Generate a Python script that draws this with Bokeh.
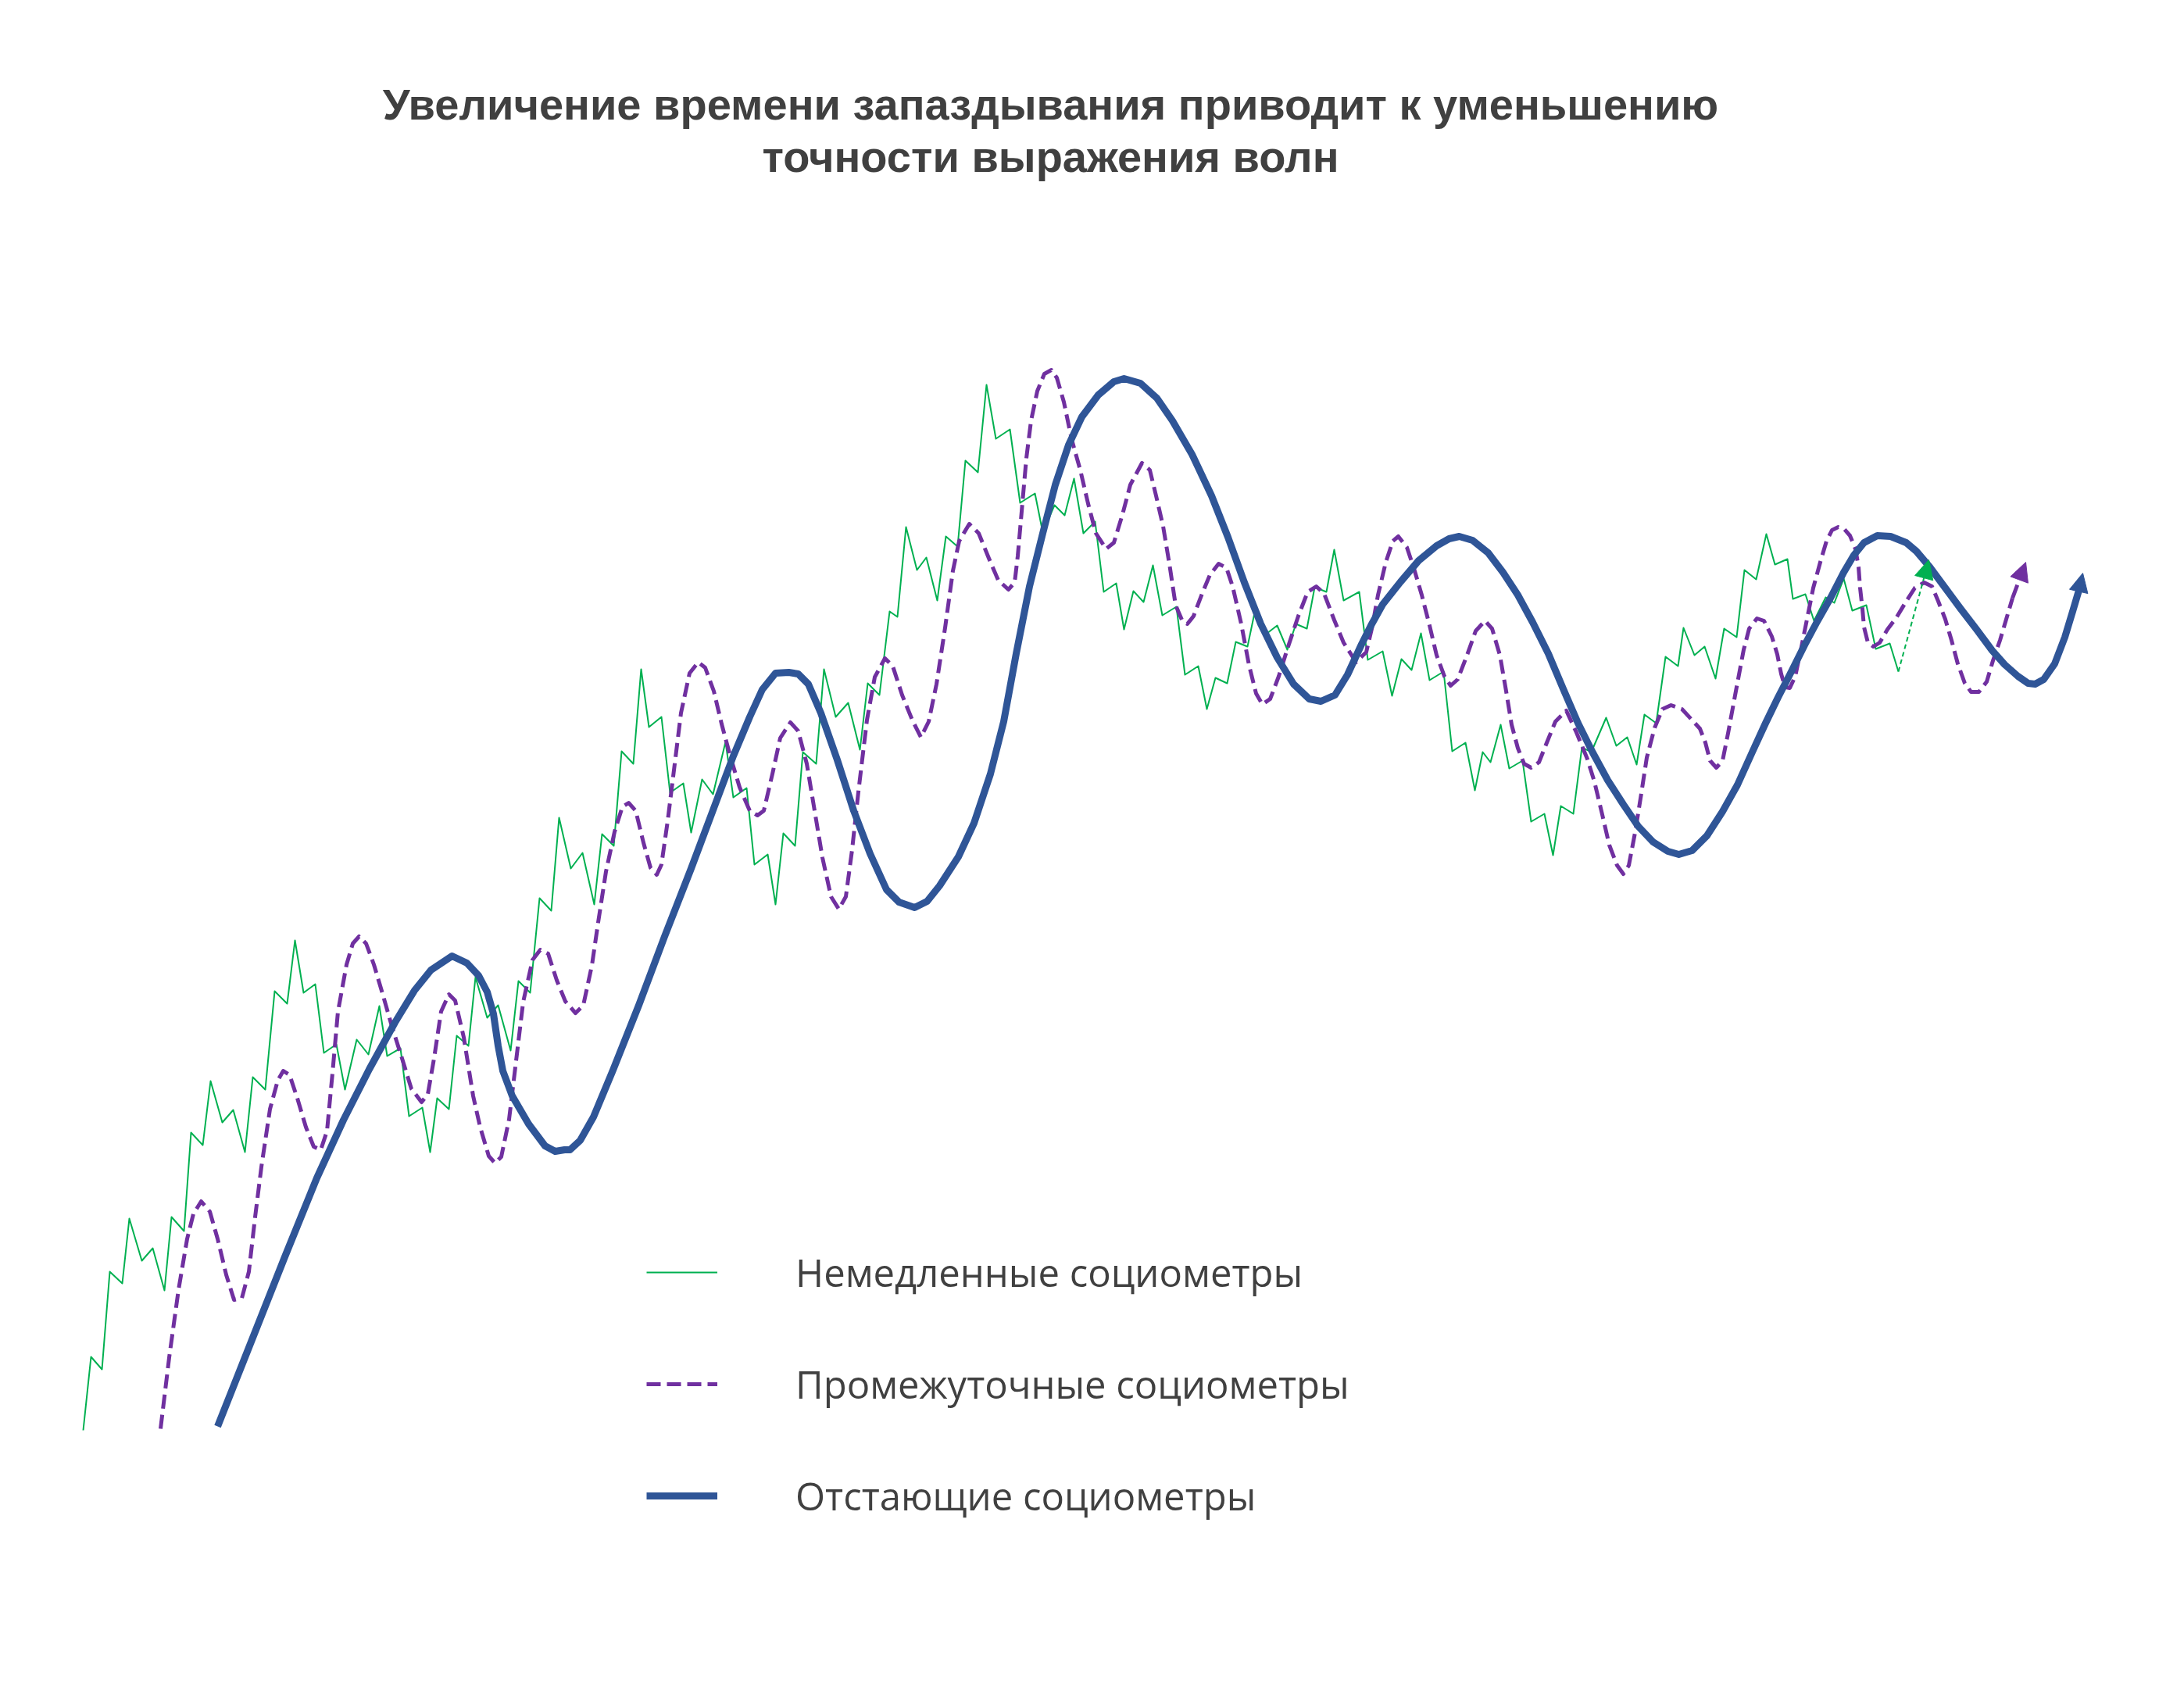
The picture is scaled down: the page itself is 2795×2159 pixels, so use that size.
"""
plot.py - three sociometer waves drawn with increasing lag (Bokeh, static page).
"""

from bokeh.embed import file_html
from bokeh.models import Arrow, Label, Legend, LegendItem, NormalHead, Range1d
from bokeh.plotting import figure
from bokeh.resources import INLINE

# ---------------------------------------------------------------------------
# Data (time, level)
# ---------------------------------------------------------------------------
TITLE_LINES = [
    "Увеличение времени запаздывания приводит к уменьшению",
    "точности выражения волн",
]
SERIES_NAMES = [
    "Немедленные социометры",
    "Промежуточные социометры",
    "Отстающие социометры",
]

# last pair of every series is the tip of its arrow
immediate = [
    (114, 1838), (124, 1744), (138, 1760), (148, 1635), (164, 1650), (173, 1567),
    (189, 1621), (203, 1605), (218, 1659), (227, 1565), (243, 1583), (252, 1457),
    (267, 1473), (277, 1391), (292, 1444), (306, 1428), (321, 1482), (331, 1386),
    (347, 1402), (359, 1276), (375, 1292), (385, 1211), (396, 1278), (411, 1267),
    (422, 1355), (438, 1344), (449, 1402), (464, 1338), (479, 1357), (493, 1295),
    (503, 1359), (520, 1349), (531, 1436), (548, 1425), (558, 1482), (567, 1413),
    (582, 1427), (592, 1333), (607, 1346), (616, 1258), (631, 1310), (645, 1294),
    (661, 1352), (671, 1263), (686, 1278), (698, 1157), (713, 1173), (723, 1054),
    (738, 1119), (753, 1099), (768, 1165), (778, 1075), (793, 1090), (803, 969),
    (818, 985), (828, 864), (838, 938), (854, 925), (865, 1022), (882, 1010),
    (892, 1073), (906, 1005), (920, 1024), (936, 957), (946, 1028), (963, 1016),
    (973, 1114), (990, 1101), (1000, 1165), (1010, 1074), (1025, 1090), (1035, 970),
    (1052, 985), (1062, 864), (1077, 925), (1093, 907), (1108, 967), (1118, 882),
    (1133, 897), (1146, 790), (1156, 797), (1167, 682), (1181, 737), (1193, 721),
    (1207, 776), (1218, 694), (1233, 707), (1243, 597), (1259, 612), (1270, 500),
    (1282, 569), (1300, 557), (1313, 651), (1332, 639), (1342, 689), (1357, 654),
    (1370, 667), (1382, 620), (1394, 690), (1409, 675), (1420, 765), (1436, 754),
    (1446, 813), (1458, 764), (1471, 778), (1483, 731), (1495, 795), (1513, 784),
    (1524, 871), (1541, 860), (1552, 915), (1563, 875), (1578, 882), (1589, 829),
    (1604, 835), (1613, 792), (1629, 818), (1642, 808), (1655, 839), (1666, 806),
    (1680, 812), (1690, 759), (1705, 765), (1715, 711), (1727, 776), (1747, 765),
    (1758, 852), (1777, 841), (1789, 898), (1801, 851), (1814, 865), (1826, 818),
    (1837, 878), (1855, 867), (1866, 969), (1883, 958), (1895, 1019), (1905, 970),
    (1915, 983), (1928, 935), (1939, 991), (1956, 981), (1967, 1059), (1984, 1049),
    (1995, 1102), (2005, 1039), (2021, 1049), (2032, 964), (2044, 970), (2063, 926),
    (2076, 962), (2090, 951), (2102, 986), (2112, 922), (2127, 933), (2139, 848),
    (2155, 860), (2162, 811), (2176, 846), (2189, 835), (2203, 876), (2214, 812),
    (2230, 823), (2240, 737), (2255, 749), (2268, 691), (2279, 730), (2295, 723),
    (2302, 774), (2318, 768), (2329, 802), (2344, 772), (2355, 779), (2367, 748),
    (2378, 789), (2396, 782), (2408, 838), (2426, 831), (2437, 867),
    (2476, 724),
]

intermediate = [
    (213, 1836), (224, 1745), (236, 1658), (247, 1593), (255, 1561), (265, 1545),
    (276, 1558), (286, 1593), (297, 1639), (307, 1671), (317, 1669), (326, 1635),
    (334, 1565), (342, 1501), (353, 1427), (363, 1390), (370, 1378), (378, 1383),
    (388, 1413), (399, 1450), (409, 1475), (418, 1479), (426, 1455), (433, 1381),
    (440, 1302), (451, 1242), (459, 1215), (467, 1206), (476, 1215), (486, 1242),
    (497, 1279), (509, 1321), (522, 1362), (534, 1401), (547, 1418), (555, 1408),
    (563, 1362), (572, 1302), (582, 1280), (590, 1288), (601, 1335), (613, 1410),
    (622, 1450), (633, 1487), (641, 1496), (649, 1488), (659, 1440), (668, 1365),
    (677, 1290), (689, 1236), (699, 1223), (709, 1228), (720, 1262), (731, 1289),
    (744, 1304), (754, 1294), (765, 1243), (773, 1188), (783, 1123), (794, 1072),
    (804, 1040), (812, 1035), (821, 1045), (831, 1086), (840, 1118), (848, 1127),
    (854, 1114), (862, 1058), (871, 985), (879, 920), (890, 869), (901, 855),
    (910, 862), (921, 892), (931, 934), (942, 975), (954, 1015), (967, 1045),
    (977, 1051), (985, 1045), (996, 998), (1006, 952), (1019, 932), (1029, 943),
    (1040, 985), (1050, 1045), (1060, 1105), (1071, 1155), (1081, 1171), (1090, 1155),
    (1098, 1095), (1106, 1021), (1117, 929), (1127, 874), (1140, 850), (1150, 860),
    (1162, 897), (1175, 929), (1186, 951), (1196, 931), (1206, 883), (1217, 811),
    (1227, 738), (1235, 700), (1248, 678), (1260, 690), (1273, 722), (1285, 750),
    (1298, 762), (1306, 753), (1310, 719), (1315, 662), (1321, 594), (1327, 546),
    (1335, 508), (1344, 486), (1353, 481), (1360, 491), (1369, 522), (1379, 570),
    (1390, 609), (1400, 652), (1410, 690), (1423, 710), (1433, 702), (1444, 666),
    (1454, 628), (1469, 600), (1479, 609), (1487, 642), (1496, 681), (1504, 729),
    (1512, 782), (1521, 803), (1527, 806), (1535, 796), (1546, 767), (1556, 743),
    (1567, 729), (1577, 734), (1585, 758), (1596, 806), (1606, 859), (1615, 895),
    (1623, 909), (1633, 902), (1644, 873), (1656, 835), (1669, 796), (1681, 765),
    (1692, 758), (1702, 767), (1715, 801), (1727, 830), (1743, 855), (1756, 842),
    (1764, 808), (1771, 769), (1781, 727), (1790, 700), (1797, 694), (1808, 708),
    (1817, 735), (1827, 769), (1837, 808), (1846, 846), (1856, 873), (1864, 885),
    (1873, 877), (1885, 846), (1896, 815), (1908, 802), (1917, 812), (1927, 846),
    (1935, 892), (1942, 935), (1950, 965), (1958, 985), (1967, 990), (1977, 983),
    (1987, 958), (1998, 931), (2012, 917), (2025, 945), (2039, 979), (2048, 1008),
    (2058, 1050), (2067, 1089), (2077, 1115), (2085, 1126), (2092, 1115), (2100, 1073),
    (2108, 1023), (2115, 977), (2125, 939), (2135, 915), (2146, 910), (2160, 915),
    (2173, 929), (2183, 940), (2190, 958), (2196, 981), (2204, 990), (2212, 981),
    (2219, 946), (2229, 892), (2239, 839), (2246, 812), (2256, 799), (2265, 802),
    (2275, 822), (2282, 845), (2287, 870), (2292, 887), (2298, 888), (2305, 873),
    (2312, 840), (2320, 800), (2328, 760), (2337, 727), (2345, 700), (2352, 686),
    (2360, 682), (2368, 685), (2375, 693), (2382, 710), (2386, 733), (2388, 760),
    (2391, 787), (2393, 810), (2398, 830), (2405, 835), (2413, 830), (2423, 813),
    (2435, 797), (2447, 777), (2458, 760), (2470, 753), (2480, 758), (2488, 777),
    (2497, 800), (2505, 827), (2513, 857), (2522, 882), (2530, 893), (2540, 893),
    (2550, 880), (2558, 853), (2567, 827), (2575, 800), (2583, 773),
    (2600, 727),
]

lagging = [
    (286, 1833), (330, 1722), (372, 1616), (413, 1515), (447, 1441), (480, 1376),
    (513, 1316), (538, 1275), (559, 1249), (586, 1231), (605, 1240), (620, 1256),
    (631, 1277), (639, 1305), (645, 1346), (651, 1378), (663, 1410), (684, 1446),
    (705, 1474), (718, 1481), (730, 1479), (737, 1479), (750, 1467), (767, 1437),
    (792, 1377), (825, 1294), (858, 1206), (892, 1119), (925, 1031), (946, 975),
    (967, 925), (983, 890), (1000, 869), (1017, 868), (1029, 870), (1042, 883),
    (1058, 920), (1079, 980), (1100, 1045), (1121, 1100), (1142, 1146), (1158, 1162),
    (1178, 1169), (1194, 1161), (1210, 1141), (1234, 1104), (1254, 1061), (1275, 998),
    (1292, 931), (1308, 844), (1325, 758), (1342, 690), (1358, 628), (1375, 577),
    (1392, 541), (1413, 513), (1433, 496), (1446, 492), (1467, 498), (1488, 517),
    (1508, 546), (1533, 589), (1558, 642), (1579, 695), (1600, 753), (1621, 806),
    (1642, 849), (1663, 883), (1683, 902), (1698, 905), (1716, 897), (1732, 871),
    (1750, 832), (1762, 808), (1777, 781), (1800, 752), (1823, 725), (1846, 706),
    (1862, 697), (1875, 694), (1892, 699), (1912, 715), (1931, 740), (1950, 769),
    (1969, 804), (1989, 844), (2008, 889), (2027, 933), (2046, 971), (2065, 1006),
    (2085, 1037), (2104, 1065), (2123, 1085), (2142, 1097), (2156, 1101), (2173, 1096),
    (2192, 1077), (2212, 1046), (2231, 1012), (2250, 970), (2267, 933), (2283, 900),
    (2300, 867), (2317, 833), (2333, 803), (2350, 773), (2367, 740), (2380, 718),
    (2393, 702), (2410, 693), (2427, 694), (2447, 702), (2460, 713), (2477, 733),
    (2497, 760), (2517, 787), (2537, 813), (2557, 840), (2573, 858), (2590, 873),
    (2603, 882), (2612, 883), (2623, 877), (2637, 857), (2650, 823), (2660, 790),
    (2668, 763),
    (2673, 741),
]

# ---------------------------------------------------------------------------
# Styles
# ---------------------------------------------------------------------------
GREEN, PURPLE, BLUE = "#00B050", "#7030A0", "#2F5597"
TEXT_COLOR = "#404040"
STYLES = [
    dict(line_color=GREEN, line_width=2),
    dict(line_color=PURPLE, line_width=5, line_dash="18 8"),
    dict(line_color=BLUE, line_width=9),
]

W, H = 2779, 2143

p = figure(
    width=W, height=H,
    x_range=Range1d(8, 8 + W), y_range=Range1d(8 + H, 8),
    x_axis_location=None, y_axis_location=None,
    toolbar_location=None, output_backend="svg",
    min_border=0,
)
p.grid.visible = False
p.outline_line_color = None
p.background_fill_color = "white"
p.border_fill_color = "white"

renderers = []
for series, style in zip((immediate, intermediate, lagging), STYLES):
    xs = [pt[0] for pt in series]
    ys = [pt[1] for pt in series]
    r = p.line(xs[:-1], ys[:-1], line_join="round", **style)
    renderers.append(r)

    # closing segment with arrow head
    arrow_style = dict(style)
    if style is STYLES[0]:
        arrow_style["line_dash"] = "6 4"
    color = style["line_color"]
    p.add_layout(Arrow(
        end=NormalHead(size=24, fill_color=color, line_color=color, line_width=1),
        x_start=xs[-2], y_start=ys[-2], x_end=xs[-1], y_end=ys[-1],
        **arrow_style,
    ))

# title
for line, baseline in zip(TITLE_LINES, (141, 208)):
    p.add_layout(Label(
        x=1352, y=baseline, text=line,
        text_align="center", text_baseline="alphabetic",
        text_font="Liberation Sans", text_font_style="bold",
        text_font_size="56px", text_color=TEXT_COLOR,
    ))

legend = Legend(
    items=[LegendItem(label=name, renderers=[r]) for name, r in zip(SERIES_NAMES, renderers)],
    location=(827, 196),
    glyph_width=91, glyph_height=60, label_height=60,
    label_standoff=100, spacing=77, padding=0, margin=0,
    label_text_font="Open Sans", label_text_font_size="49px",
    label_text_color=TEXT_COLOR,
    border_line_color=None, background_fill_alpha=0,
)
p.add_layout(legend)

open("out.html", "w").write(file_html(p, INLINE))
